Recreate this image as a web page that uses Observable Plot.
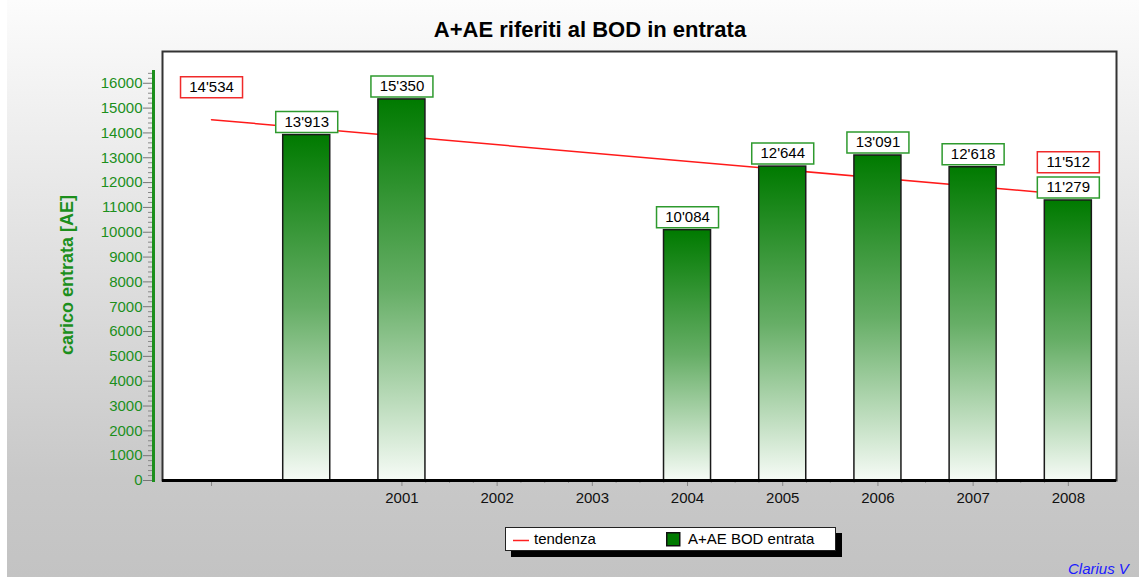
<!DOCTYPE html>
<html>
<head>
<meta charset="utf-8">
<script src="https://cdn.jsdelivr.net/npm/d3@7"></script>
<script src="https://cdn.jsdelivr.net/npm/@observablehq/plot@0.6"></script>
<style>
  html, body { margin: 0; padding: 0; background: #fff; }
  #wrap { position: relative; width: 1139px; height: 578px; overflow: hidden; background: #fff;
          font-family: "Liberation Sans", Arial, Helvetica, sans-serif; }
  #bg { position: absolute; left: 7px; top: 0; width: 1132px; height: 577px;
        background: linear-gradient(to bottom, #fcfcfc 0%, #c8c8c8 83%, #c3c3c3 100%); }
  #chart { position: absolute; left: 0; top: 0; }
  #title { position: absolute; left: 340px; width: 500px; top: 17px; text-align: center;
           font-weight: bold; font-size: 22px; line-height: 26px; color: #000; }
  #legend-shadow { position: absolute; left: 511px; top: 533px; width: 331px; height: 24px; background: #000; }
  #legend { position: absolute; left: 505px; top: 527px; width: 329px; height: 22px; background: #fff;
            border: 1px solid #222; font-size: 15px; color: #000; }
  .li { position: absolute; top: 2px; white-space: nowrap; }
  #credit { position: absolute; left: 1068px; top: 561px; font-size: 15px; line-height: 16px; font-style: italic; color: #1a1aff; white-space: nowrap; }
</style>
</head>
<body>
<div id="wrap">
  <div id="bg"></div>
  <div id="chart"></div>
  <div id="title">A+AE riferiti al BOD in entrata</div>
  <div id="legend-shadow"></div>
  <div id="legend">
    <svg style="position:absolute;left:6px;top:11px" width="18" height="3"><line x1="1" y1="1.5" x2="17" y2="1.5" stroke="#ff2020" stroke-width="1.5"/></svg>
    <span class="li" style="left:28px">tendenza</span>
    <svg style="position:absolute;left:160px;top:4px" width="15" height="15"><rect x="0.75" y="0.75" width="13" height="13" fill="#007a00" stroke="#111" stroke-width="1.5"/></svg>
    <span class="li" style="left:182px">A+AE BOD entrata</span>
  </div>
  <div id="credit">Clarius V</div>
</div>
<script>
// ---- data ----
const years = [2000, 2001, 2004, 2005, 2006, 2007, 2008];
const values = [13913, 15350, 10084, 12644, 13091, 12618, 11279];
const trendYears = [1999, 2008];
const trendValues = [14534, 11512];
const xTickYears = [1999, 2001, 2002, 2003, 2004, 2005, 2006, 2007, 2008];
const xTickLabels = ["", "2001", "2002", "2003", "2004", "2005", "2006", "2007", "2008"];
const yTicks = [0, 1000, 2000, 3000, 4000, 5000, 6000, 7000, 8000, 9000, 10000, 11000, 12000, 13000, 14000, 15000, 16000];
const yTitle = "carico entrata [AE]";

const bars = years.map((y, i) => ({year: y, value: values[i]}));
const trend = trendYears.map((y, i) => ({year: y, value: trendValues[i]}));
const fmt = d3.formatLocale({decimal: ".", thousands: "'", grouping: [3], currency: ["", ""]}).format(",");

const xMinor = [];
for (let y = 2001; y < 2008; y++) [0.25, 0.5, 0.75].forEach(f => xMinor.push(y + f));
const yMinor = d3.range(200, 16401, 200).filter(v => v % 1000 !== 0);

const green = "#1c8f1c";
const boxSymbol = { draw(ctx) { ctx.rect(-31, -10.5, 62, 21); } };
const halfBar = 0.247;

const chart = Plot.plot({
  width: 1139,
  height: 578,
  marginLeft: 162,
  marginRight: 23,
  marginTop: 51,
  marginBottom: 98,
  style: { background: "transparent", fontFamily: "'Liberation Sans', Arial, Helvetica, sans-serif", overflow: "visible" },
  x: { type: "linear", domain: [1998.485, 2008.506], axis: null },
  y: { domain: [0, 17280], axis: null },
  marks: [
    Plot.frame({ fill: "white", stroke: "#333", strokeWidth: 2 }),
    // y axis (detached, green)
    Plot.frame({ anchor: "left", dx: -9, stroke: green, strokeWidth: 3, insetTop: 20 }),
    Plot.axisY(yMinor, { anchor: "left", tickSize: 4, dx: -10, stroke: "#888", tickFormat: () => "", label: null }),
    Plot.axisY(yTicks, { anchor: "left", tickSize: 9, dx: -10, tickPadding: 1, stroke: "#777", fill: green, fontSize: 15,
      tickFormat: d => String(d), label: null }),
    Plot.text([yTitle], { frameAnchor: "left", textAnchor: "middle", dx: -95, dy: 9, rotate: -90,
      fontSize: 18, fontWeight: "bold", fill: green }),
    // x axis
    Plot.axisX(xMinor, { anchor: "bottom", tickSize: 3, stroke: "#999", tickFormat: () => "", label: null }),
    Plot.axisX(xTickYears, { anchor: "bottom", tickSize: 6, tickPadding: 6, stroke: "#888", fill: "#111", fontSize: 15,
      tickFormat: d => xTickLabels[xTickYears.indexOf(d)], label: null }),
    // trend line
    Plot.line(trend, { x: "year", y: "value", stroke: "#ff1a1a", strokeWidth: 1.5 }),
    // bars
    Plot.rectY(bars, { x1: d => d.year - halfBar, x2: d => d.year + halfBar, y: "value",
      fill: "url(#barGrad)", stroke: "#1a1a1a", strokeWidth: 1.5 }),
    Plot.ruleY([0], { stroke: "#000", strokeWidth: 3 }),
    // bar value labels
    Plot.dot(bars, { x: "year", y: "value", dy: -13, symbol: boxSymbol, fill: "white", stroke: "#2e9a2e", strokeWidth: 1.5 }),
    Plot.text(bars, { x: "year", y: "value", dy: -13, text: d => fmt(d.value), fontSize: 15, fill: "#000" }),
    // trend end labels
    Plot.dot(trend, { x: "year", y: "value", dy: -32.5, symbol: boxSymbol, fill: "white", stroke: "#f02a2a", strokeWidth: 1.5 }),
    Plot.text(trend, { x: "year", y: "value", dy: -32.5, text: d => fmt(d.value), fontSize: 15, fill: "#000" })
  ]
});

const defs = d3.select(chart).insert("defs", ":first-child");
const grad = defs.append("linearGradient").attr("id", "barGrad")
  .attr("x1", 0).attr("y1", 0).attr("x2", 0).attr("y2", 1);
grad.append("stop").attr("offset", "0%").attr("stop-color", "#007a00");
grad.append("stop").attr("offset", "50%").attr("stop-color", "#66ae66");
grad.append("stop").attr("offset", "100%").attr("stop-color", "#f6fbf6");

document.getElementById("chart").appendChild(chart);
</script>
</body>
</html>
